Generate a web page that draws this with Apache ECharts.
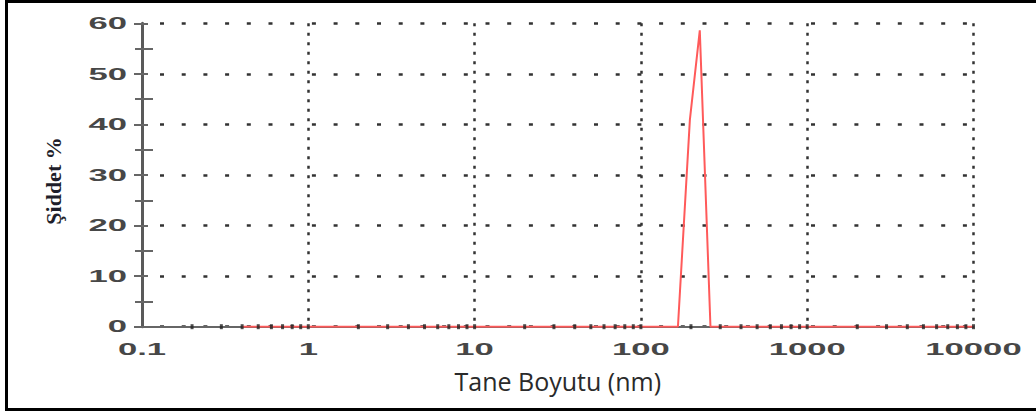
<!DOCTYPE html>
<html><head><meta charset="utf-8">
<script src="https://cdn.jsdelivr.net/npm/echarts@6/dist/echarts.min.js"></script>
<style>
html,body{margin:0;padding:0;background:#fff;overflow:hidden}
#chart{position:absolute;left:0;top:0;width:1036px;height:414px}
#frame{position:absolute;left:5px;top:0;width:1040px;height:411px;box-sizing:border-box;border:3px solid #000;pointer-events:none}
</style></head><body>
<div id="chart"></div><div id="frame"></div>
<script>
// Data
const sizeNm = [0.4, 167, 197, 226, 262, 10000];
const intensityPct = [0, 0, 40.9, 58.6, 0, 0];
const xTickLabels = ['0.1', '1', '10', '100', '1000', '10000'];
const yTickLabels = ['0', '10', '20', '30', '40', '50', '60'];
const xMinorTicks = [0.2, 0.3, 0.4, 0.5, 0.6, 0.7, 0.8, 0.9, 1,
  2, 3, 4, 5, 6, 7, 8, 9, 10,
  20, 30, 40, 50, 60, 70, 80, 90, 100,
  200, 300, 400, 500, 600, 700, 800, 900, 1000,
  2000, 3000, 4000, 5000, 6000, 7000, 8000, 9000, 10000];
const xTitle = 'Tane Boyutu (nm)';
const yTitle = 'Şiddet %';

const lineData = sizeNm.map((s, i) => [s, intensityPct[i]]);
const tickData = xMinorTicks.map(v => [v, 0]);

const chart = echarts.init(document.getElementById('chart'), null, {renderer: 'svg'});
const tickFont = {fontFamily: 'Liberation Sans', fontWeight: 'bold', fontSize: 16.5, color: '#474747'};
chart.setOption({
  animation: false,
  backgroundColor: '#fff',
  grid: {left: 142, right: 62.5, top: 23.3, bottom: 87.3, containLabel: false, outerBoundsMode: 'none'},
  xAxis: {
    type: 'log', logBase: 10, min: 0.1, max: 10000,
    name: xTitle, nameLocation: 'middle', nameGap: 42,
    nameTextStyle: {fontFamily: 'Open Sans', fontSize: 25, color: '#2a2a2a'},
    axisLine: {show: true, onZero: false, lineStyle: {color: '#666', width: 2}},
    axisTick: {show: false},
    minorTick: {show: false},
    axisLabel: Object.assign({margin: 14, formatter: (v, i) => xTickLabels[i]}, tickFont),
    splitLine: {show: true, lineStyle: {color: '#333', width: 2.5, type: [3, 6.5]}},
    minorSplitLine: {show: false}
  },
  yAxis: [{
    type: 'value', min: 0, max: 60, interval: 10,
    name: yTitle, nameLocation: 'middle', nameGap: 78,
    nameTextStyle: {fontFamily: 'Liberation Serif', fontWeight: 'bold', fontSize: 22, color: '#1e1e2a', padding: [0, 12, 0, 0]},
    axisLine: {show: true, lineStyle: {color: '#5a5a5a', width: 3}},
    axisTick: {show: true, inside: false, length: 8, lineStyle: {color: '#666', width: 2}},
    minorTick: {show: true, splitNumber: 2, length: 7, lineStyle: {color: '#666', width: 2}},
    axisLabel: Object.assign({margin: 15, formatter: (v, i) => yTickLabels[i]}, tickFont),
    splitLine: {show: true, lineStyle: {color: '#333', width: 2.5, type: [4, 17.7], dashOffset: -18}}
  }, {
    type: 'value', min: 0, max: 60, interval: 10, position: 'left',
    axisLine: {show: false},
    axisTick: {show: true, inside: true, length: 6, lineStyle: {color: '#666', width: 2}},
    minorTick: {show: true, splitNumber: 2, length: 11, lineStyle: {color: '#666', width: 2}},
    axisLabel: {show: false},
    splitLine: {show: false}
  }],
  series: [{
    type: 'line', data: lineData, showSymbol: false, symbol: 'none',
    lineStyle: {color: '#ff5a5a', width: 2}, z: 2
  }, {
    type: 'scatter', data: tickData, symbol: 'rect', symbolSize: [3, 5],
    itemStyle: {color: '#222'}, z: 3, silent: true
  }]
});

const SX = 2.1;
function stretchTicks() {
  document.querySelectorAll('#chart svg text').forEach(t => {
    if (t.getAttribute('data-st')) return;
    const s = (t.textContent || '').trim();
    if (!/^[0-9.]+$/.test(s)) return;
    const x = parseFloat(t.getAttribute('x')) || 0;
    const y = parseFloat(t.getAttribute('y')) || 0;
    const tr = t.getAttribute('transform') || '';
    t.setAttribute('transform', tr + ' translate(' + x + ' ' + y + ') scale(' + SX + ' 1) translate(' + (-x) + ' ' + (-y) + ')');
    t.setAttribute('data-st', '1');
  });
}
chart.on('finished', stretchTicks);
stretchTicks();
setTimeout(stretchTicks, 50);
setTimeout(stretchTicks, 300);
</script>
</body></html>
